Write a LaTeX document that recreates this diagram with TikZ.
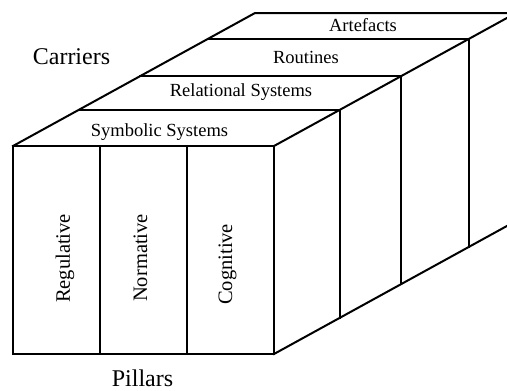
\documentclass[tikz,border=0pt]{standalone}
\usepackage{fontspec}
\setmainfont{Liberation Serif}
\begin{document}
\begin{tikzpicture}[x=1pt,y=-1pt,
  edge/.style={line width=2pt, line join=miter, line cap=rect},
  lab/.style={font=\fontsize{18.5}{20}\selectfont, anchor=base, inner sep=0pt},
  big/.style={font=\fontsize{24}{26}\selectfont, anchor=base, inner sep=0pt},
  vlab/.style={font=\fontsize{20.5}{22}\selectfont, rotate=90, anchor=base west, inner sep=0pt}]
\useasboundingbox (0,0) rectangle (507,391);
\clip (0,0) rectangle (507,391);
% front face
\coordinate (FL) at (13,146);
\coordinate (FR) at (274,146);
\coordinate (BR) at (274,354);
\coordinate (BL) at (13,354);
\coordinate (D1t) at (100,146);
\coordinate (D1b) at (100,354);
\coordinate (D2t) at (187,146);
\coordinate (D2b) at (187,354);
% layers
\coordinate (L1) at (78.5,110);  \coordinate (R1) at (339.5,110); \coordinate (B1) at (339.5,318);
\coordinate (L2) at (140.4,76);  \coordinate (R2) at (401.4,76);  \coordinate (B2) at (401.4,284);
\coordinate (L3) at (207.7,39);  \coordinate (R3) at (468.7,39);  \coordinate (B3) at (468.7,247);
\coordinate (L4) at (255,13);    \coordinate (R4) at (516,13);    \coordinate (B4) at (516,221);

\draw[edge] (FL) -- (FR) -- (BR) -- (BL) -- cycle;
\draw[edge] (D1t) -- (D1b);
\draw[edge] (D2t) -- (D2b);
\draw[edge] (FL) -- (L4) -- (R4);
\draw[edge] (FR) -- (R4);
\draw[edge] (BR) -- (B4);
\draw[edge] (L1) -- (R1) -- (B1);
\draw[edge] (L2) -- (R2) -- (B2);
\draw[edge] (L3) -- (R3) -- (B3);

% labels
\node[big] (carriers) at (71.5,64) {Carriers};
\node[big] (pillars) at (142.5,386.5) {Pillars};
\node[lab] (symb) at (159.5,136) {Symbolic Systems};
\node[lab] (rel) at (241,96) {Relational Systems};
\node[lab] (rout) at (306,63) {Routines};
\node[lab] (art) at (363,31) {Artefacts};
\node[vlab] (reg) at (70,303) {Regulative};
\node[vlab] (norm) at (147,302) {Normative};
\node[vlab] (cog) at (232,305) {Cognitive};
\end{tikzpicture}
\end{document}
